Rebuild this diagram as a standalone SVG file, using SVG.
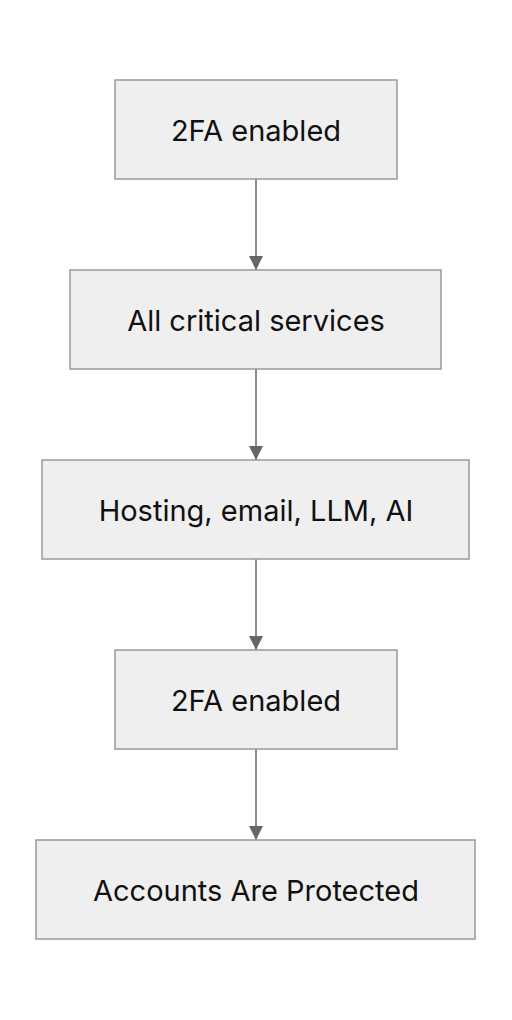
<svg xmlns="http://www.w3.org/2000/svg" width="512" height="1020" viewBox="0 0 512 1020">
<style>
.box{fill:#efefef;stroke:#999;stroke-width:1.5}
.lbl{font-family:Inter,"Liberation Sans",sans-serif;font-size:29px;fill:#111;text-anchor:middle;dominant-baseline:central}
.edge{stroke:#666;stroke-width:1.5;fill:none}
</style>
<defs>
<marker id="ah" viewBox="0 0 12 12" refX="12" refY="6" markerWidth="14" markerHeight="14" markerUnits="userSpaceOnUse" orient="auto">
<path d="M0,0 L12,6 L0,12 z" fill="#666"/>
</marker>
</defs>
<rect width="512" height="1020" fill="#fff"/>
<g id="connectors">
<line class="edge" x1="256" y1="179" x2="256" y2="270" marker-end="url(#ah)"/>
<line class="edge" x1="256" y1="369" x2="256" y2="460" marker-end="url(#ah)"/>
<line class="edge" x1="256" y1="559" x2="256" y2="650" marker-end="url(#ah)"/>
<line class="edge" x1="256" y1="749" x2="256" y2="840" marker-end="url(#ah)"/>
</g>
<g id="n1"><rect class="box" x="115" y="80" width="282" height="99"/><text class="lbl" x="256" y="130">2FA enabled</text></g>
<g id="n2"><rect class="box" x="70" y="270" width="371" height="99"/><text class="lbl" x="256" y="320">All critical services</text></g>
<g id="n3"><rect class="box" x="42" y="460" width="427" height="99"/><text class="lbl" x="256" y="510">Hosting, email, LLM, AI</text></g>
<g id="n4"><rect class="box" x="115" y="650" width="282" height="99"/><text class="lbl" x="256" y="700">2FA enabled</text></g>
<g id="n5"><rect class="box" x="36" y="840" width="439" height="99"/><text class="lbl" x="256" y="890">Accounts Are Protected</text></g>
</svg>
